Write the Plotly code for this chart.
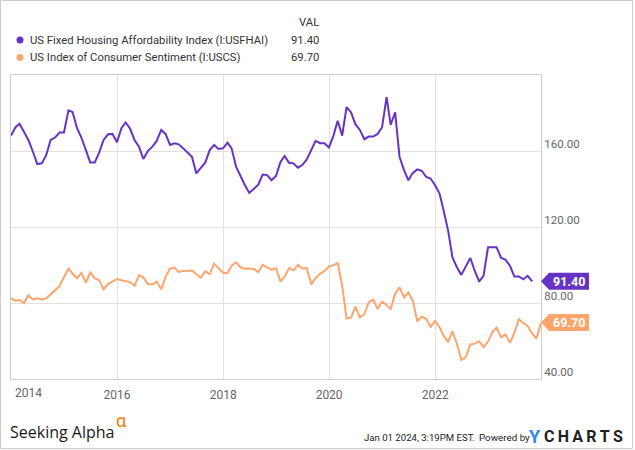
import plotly.graph_objects as go
import pandas as pd

# ---- data (monthly, end-of-month dates) ----
hai_dates = pd.date_range("2013-12-31", "2023-10-31", freq="ME")
hai_values = [
    168.1,
    172.5, 174.3, 169.9, 165.8, 159.6, 153.1, 153.5, 157.9, 165.8, 167.1, 169.7, 169.7,
    181.4, 180.5, 172.0, 167.1, 160.5, 154.0, 154.0, 159.3, 165.8, 168.8, 169.0, 164.6,
    172.0, 175.0, 171.7, 165.8, 162.3, 155.8, 160.0, 162.3, 165.3, 171.1, 169.0, 163.2,
    164.1, 163.5, 161.4, 159.3, 157.0, 148.2, 151.2, 154.0, 160.5, 163.2, 161.1, 161.4,
    164.4, 161.4, 151.7, 146.8, 142.0, 137.9, 140.2, 142.3, 147.6, 147.3, 144.6, 146.9,
    154.3, 157.4, 153.8, 153.5, 151.2, 152.6, 155.6, 160.5, 165.3, 164.1, 164.1, 161.9,
    168.1, 175.9, 168.1, 183.1, 180.3, 174.1, 171.1, 166.2, 167.6, 167.6, 169.0, 172.5,
    188.4, 173.8, 180.3, 157.0, 149.9, 144.6, 148.5, 150.3, 149.6, 146.4, 145.5, 142.0,
    137.6, 128.7, 118.1, 104.0, 98.7, 94.8, 99.6, 103.7, 97.0, 91.3, 94.3, 109.3,
    109.3, 109.3, 103.7, 102.8, 99.6, 94.0, 94.0, 92.5, 94.3, 91.4,
]
cs_dates = pd.date_range("2013-12-31", "2023-12-31", freq="ME")
cs_values = [
    82.5,
    81.2, 81.6, 80.0, 84.1, 81.9, 82.5, 81.8, 82.5, 84.6, 86.9, 88.8, 93.6,
    98.1, 95.4, 93.0, 95.9, 90.7, 96.1, 93.1, 91.9, 87.2, 90.0, 91.3, 92.6,
    92.0, 91.7, 91.0, 89.0, 94.7, 93.5, 90.0, 89.8, 91.2, 87.2, 93.8, 98.2,
    98.5, 96.3, 96.9, 97.0, 97.1, 95.1, 93.4, 96.8, 95.1, 100.7, 98.5, 95.9,
    95.7, 99.7, 101.4, 98.8, 98.0, 98.2, 97.9, 96.2, 100.1, 98.6, 97.5, 98.3,
    91.2, 93.8, 98.4, 97.2, 100.0, 98.2, 98.4, 89.8, 93.2, 95.5, 96.8, 99.3,
    99.8, 101.0, 89.1, 71.8, 72.3, 78.1, 72.5, 74.1, 80.4, 81.8, 76.9, 80.7,
    79.0, 76.8, 84.9, 88.3, 82.9, 85.5, 81.2, 70.3, 72.8, 71.7, 67.4, 70.6,
    67.2, 62.8, 59.4, 65.2, 58.4, 50.0, 51.5, 58.2, 58.6, 59.9, 56.8, 59.7,
    64.9, 67.0, 62.0, 63.5, 59.0, 64.2, 71.5, 69.5, 67.9, 63.8, 61.3, 69.7,
]
series_names = ["US Fixed Housing Affordability Index (I:USFHAI)",
                "US Index of Consumer Sentiment (I:USCS)"]
last_values = ["91.40", "69.70"]
y_ticks = [40, 80, 120, 160]
x_ticks = ["2016-01-01", "2018-01-01", "2020-01-01", "2022-01-01"]
x_tick_text = ["2016", "2018", "2020", "2022"]

PURPLE = "#6534c6"
ORANGE = "#fda56c"

W, H = 635, 450
L, R, T, B = 11, 94, 75, 71
PW, PH = W - L - R, H - T - B


def px(x):
    return (x - L) / PW


def py(y):
    return (H - B - y) / PH


fig = go.Figure()
fig.add_trace(go.Scatter(x=hai_dates, y=hai_values, mode="lines",
                         line=dict(color=PURPLE, width=2), hoverinfo="skip"))
fig.add_trace(go.Scatter(x=cs_dates, y=cs_values, mode="lines",
                         line=dict(color=ORANGE, width=2), hoverinfo="skip"))

font_family = "Roboto, Arial, sans-serif"

fig.update_layout(
    width=W, height=H,
    margin=dict(l=L, r=R, t=T, b=B),
    paper_bgcolor="white", plot_bgcolor="white",
    showlegend=False,
    font=dict(family=font_family, size=12, color="#666"),
    xaxis=dict(
        range=["2013-12-31", "2023-12-31"],
        tickvals=x_ticks, ticktext=x_tick_text,
        showgrid=True, gridcolor="#e1e1e1", gridwidth=1,
        showline=True, linecolor="#cfcfcf", linewidth=1, mirror=True,
        ticks="", tickfont=dict(size=12, color="#666"),
        ticklabelstandoff=5,
        zeroline=False,
    ),
    yaxis=dict(
        range=[40, 200], side="right",
        tickvals=y_ticks, tickformat=".2f",
        showgrid=True, gridcolor="#e1e1e1", gridwidth=1,
        showline=True, linecolor="#cfcfcf", linewidth=1, mirror=True,
        ticks="", tickfont=dict(size=11.5, color="#666"),
        ticklabelstandoff=0, ticklabelshift=-7,
        zeroline=False,
    ),
)

annotations = []
shapes = []

# first x tick label (kept inside the plot edge)
annotations.append(dict(x=px(13), y=py(393), xref="paper", yref="paper",
                        text="2014", showarrow=False, xanchor="left", yanchor="middle",
                        font=dict(size=12, color="#666")))

# legend block
LEG = 11.3
annotations.append(dict(x=px(321), y=py(22.5), xref="paper", yref="paper", text="VAL",
                        showarrow=False, xanchor="right", yanchor="middle",
                        font=dict(size=LEG, color="#333")))
for i, (name, val, col) in enumerate(zip(series_names, last_values, [PURPLE, ORANGE])):
    yy = 40 + i * 17.5
    shapes.append(dict(type="circle", xref="paper", yref="paper",
                       x0=px(16.5), x1=px(23.5), y0=py(yy + 3.5), y1=py(yy - 3.5),
                       fillcolor=col, line=dict(width=0)))
    annotations.append(dict(x=px(28), y=py(yy), xref="paper", yref="paper", text=name,
                            showarrow=False, xanchor="left", yanchor="middle",
                            font=dict(size=LEG, color="#333")))
    annotations.append(dict(x=px(321), y=py(yy), xref="paper", yref="paper", text=val,
                            showarrow=False, xanchor="right", yanchor="middle",
                            font=dict(size=LEG, color="#333")))

# end-value flags
for val, yv, col in [(last_values[0], hai_values[-1], PURPLE), (last_values[1], cs_values[-1], ORANGE)]:
    shapes.append(dict(type="path", xref="paper", yref="y", xsizemode="pixel", ysizemode="pixel",
                       xanchor=1, yanchor=yv,
                       path="M0,0 L8,8.5 L48,8.5 L48,-8.5 L8,-8.5 Z",
                       fillcolor=col, line=dict(width=0)))
    annotations.append(dict(x=1, y=yv, xref="paper", yref="y", text="<b>" + val + "</b>",
                            showarrow=False, xanchor="center", yanchor="middle", xshift=28,
                            font=dict(size=12.5, color="white")))

# footer
annotations.append(dict(x=px(8), y=py(432), xref="paper", yref="paper", text="Seeking Alpha",
                        showarrow=False, xanchor="left", yanchor="middle",
                        font=dict(size=16, color="#1a1a1a", family="Open Sans, sans-serif")))
annotations.append(dict(x=px(114), y=py(420), xref="paper", yref="paper", text="α",
                        showarrow=False, xanchor="left", yanchor="middle",
                        font=dict(size=18, color="#ff7a00")))
annotations.append(dict(x=px(362), y=py(437.5), xref="paper", yref="paper",
                        text="Jan 01 2024, 3:19PM EST.",
                        showarrow=False, xanchor="left", yanchor="middle",
                        font=dict(size=9.6, color="#222")))
annotations.append(dict(x=px(477), y=py(437.5), xref="paper", yref="paper", text="Powered by",
                        showarrow=False, xanchor="left", yanchor="middle",
                        font=dict(size=9.8, color="#222")))
annotations.append(dict(x=px(527), y=py(436), xref="paper", yref="paper", text="<b>Y</b>",
                        showarrow=False, xanchor="left", yanchor="middle",
                        font=dict(size=18, color="#2d8ae8")))
annotations.append(dict(x=px(542), y=py(436), xref="paper", yref="paper",
                        text="<b>C\u2009H\u2009A\u2009R\u2009T\u2009S</b>",
                        showarrow=False, xanchor="left", yanchor="middle",
                        font=dict(size=16, color="#1f1f1f")))

# outer frame
shapes.append(dict(type="rect", xref="paper", yref="paper",
                   x0=px(0.5), x1=px(632.5), y0=py(448.5), y1=py(0.5),
                   line=dict(color="#cccccc", width=1), fillcolor="rgba(0,0,0,0)", layer="below"))

fig.update_layout(annotations=annotations, shapes=shapes)
fig.write_html("out.html")
